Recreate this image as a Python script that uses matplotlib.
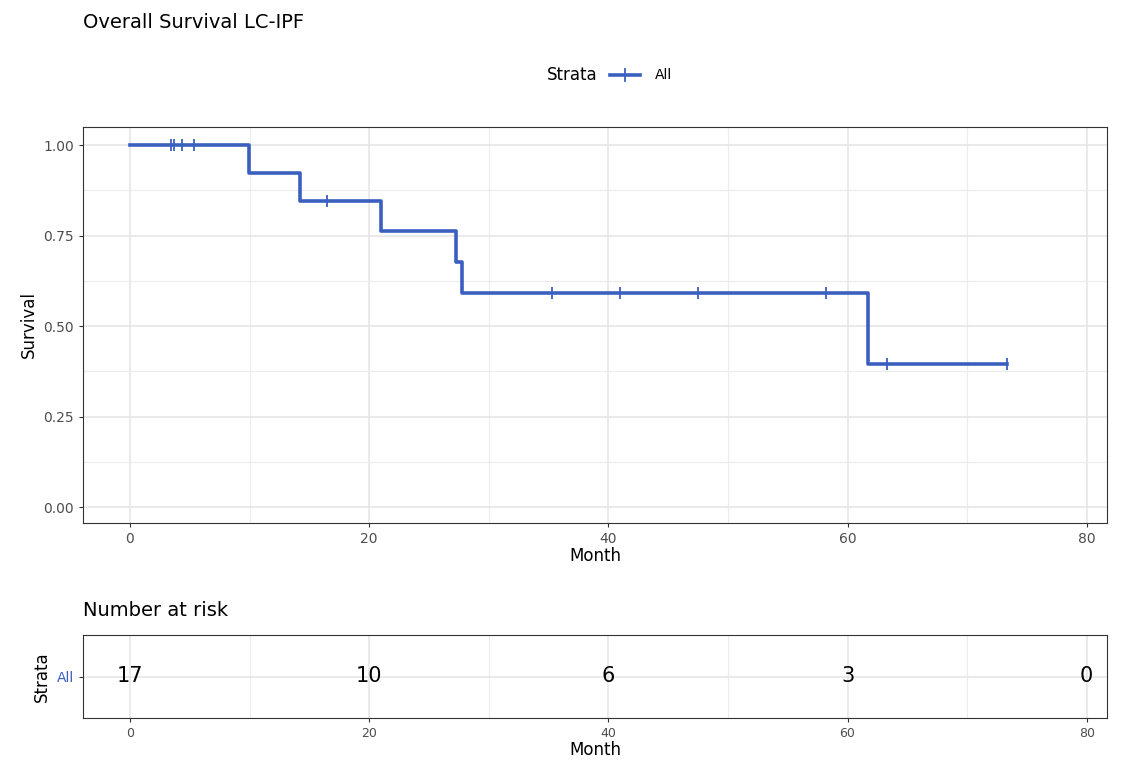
import matplotlib
matplotlib.use("Agg")
import matplotlib.pyplot as plt
import numpy as np

step_times = [0, 9.95, 14.2, 21.0, 27.3, 27.8, 61.7, 73.3]
step_surv = [1.0, 0.923, 0.846, 0.762, 0.677, 0.592, 0.395, 0.395]
censor_times = [3.4, 3.7, 4.35, 5.35, 16.5, 35.3, 41.0, 47.5, 58.2, 63.3, 73.3]
risk_times = [0, 20, 40, 60, 80]
risk_counts = [17, 10, 6, 3, 0]
color = "#3A5FBF"

def surv_at(t):
    s = 1.0
    for tt, ss in zip(step_times, step_surv):
        if tt <= t:
            s = ss
    return s

fig = plt.figure(figsize=(11.25, 7.69), dpi=100)
W, H = 1125, 769
ax = fig.add_axes([83/W, 1-523/H, (1107-83)/W, (523-127)/H])
ax2 = fig.add_axes([83/W, 1-718/H, (1107-83)/W, (718-635)/H])
xl = (-3.93, 81.7)

def style(a):
    a.set_facecolor("white")
    for s in a.spines.values():
        s.set_color("#333333"); s.set_linewidth(0.8)
    a.tick_params(colors="#4d4d4d", labelsize=10, length=3, color="#333333")
    a.set_axisbelow(True)

style(ax)
ax.set_xlim(*xl); ax.set_ylim(-0.044, 1.05)
ax.set_xticks([0, 20, 40, 60, 80]); ax.set_xticks([10, 30, 50, 70], minor=True)
ax.set_yticks([0, 0.25, 0.5, 0.75, 1.0]); ax.set_yticks([0.125, 0.375, 0.625, 0.875], minor=True)
ax.set_yticklabels(["0.00", "0.25", "0.50", "0.75", "1.00"])
ax.tick_params(which="minor", length=0)
ax.grid(which="major", color="#e6e6e6", lw=1.2)
ax.grid(which="minor", color="#ececec", lw=0.8)
ax.step(step_times, step_surv, where="post", color=color, lw=2.6)
ax.plot(censor_times, [surv_at(t) for t in censor_times], ls="none", marker="|", ms=9, mew=1.3, color=color)
ax.set_xlabel("Month", fontsize=12, labelpad=1)
ax.set_ylabel("Survival", fontsize=12)
fig.text(83/W, 1-22/H, "Overall Survival LC-IPF", fontsize=14, va="center")
fig.text(598/W, 1-75/H, "Strata", fontsize=12, va="center", ha="right")
fig.add_artist(plt.Line2D([610/W, 640/W], [1-75/H]*2, color=color, lw=2.6))
fig.add_artist(plt.Line2D([625/W]*2, [1-69/H, 1-81/H], color=color, lw=1.3))
fig.text(655/W, 1-75/H, "All", fontsize=10, va="center")

style(ax2)
ax2.set_xlim(*xl); ax2.set_ylim(0.5, 1.5)
ax2.set_xticks([0, 20, 40, 60, 80]); ax2.set_xticks([10, 30, 50, 70], minor=True)
ax2.set_yticks([1]); ax2.set_yticklabels(["All"])
ax2.get_yticklabels()[0].set_color(color)
ax2.tick_params(which="minor", length=0)
ax2.tick_params(axis="x", labelsize=9)
ax2.grid(which="major", color="#e6e6e6", lw=1.2)
ax2.grid(which="minor", color="#ececec", lw=0.8)
for t, c in zip(risk_times, risk_counts):
    ax2.text(t, 1, str(c), ha="center", va="center", fontsize=15)
ax2.set_xlabel("Month", fontsize=12, labelpad=1)
ax2.set_ylabel("Strata", fontsize=12)
fig.text(83/W, 1-610/H, "Number at risk", fontsize=14, va="center")
fig.savefig("out.png", dpi=100, facecolor="white")
